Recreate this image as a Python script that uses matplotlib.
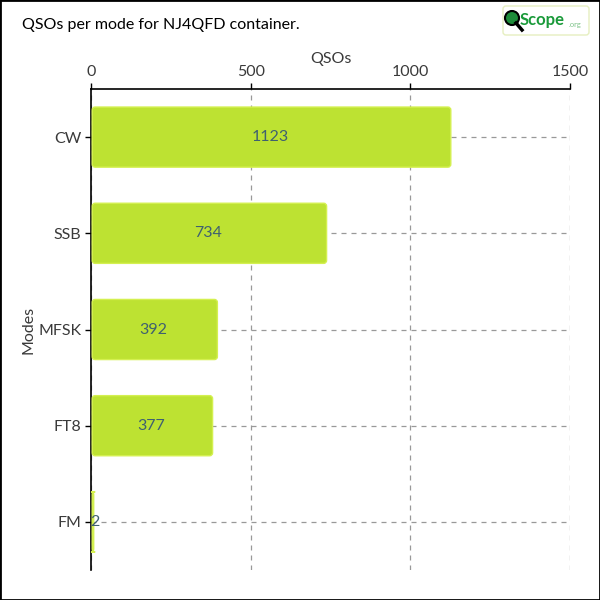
import matplotlib
matplotlib.use("Agg")
import matplotlib.pyplot as plt
from matplotlib.patches import FancyBboxPatch, Circle, Rectangle
import matplotlib.lines as mlines

modes = ["CW", "SSB", "MFSK", "FT8", "FM"]
qsos = [1123, 734, 392, 377, 2]
x_ticks = [0, 500, 1000, 1500]

BAR = "#bde232"
BAR_EDGE = "#d4f050"
TXT = "#3a3a3a"
VAL = "#3f6070"
FONT = ["Lato", "DejaVu Sans"]

plt.rcParams["font.family"] = FONT

fig = plt.figure(figsize=(6, 6), dpi=100)
ax = fig.add_axes([91 / 600, 30 / 600, 479 / 600, 481 / 600])

ax.set_xlim(0, 1500)
ax.set_ylim(4.5, -0.5)
ax.xaxis.tick_top()
ax.xaxis.set_label_position("top")
ax.set_xticks(x_ticks)
ax.set_yticks(range(len(modes)))
ax.set_yticklabels(modes)
ax.tick_params(axis="both", colors="black", labelcolor=TXT, labelsize=11.5,
               length=4, width=1, pad=3)
ax.set_xlabel("QSOs", fontsize=11.5, color=TXT, labelpad=2)
ax.set_ylabel("Modes", fontsize=11.5, color=TXT, labelpad=2)
for s in ["right", "bottom"]:
    ax.spines[s].set_visible(False)
for s in ["top", "left"]:
    ax.spines[s].set_linewidth(1.2)
    ax.spines[s].set_color("black")
ax.grid(True, linestyle=(0, (4, 4)), color="#999999", linewidth=0.9)
ax.set_axisbelow(True)

h = 0.625
px_x = 1500 / 479
px_y = 1 / 96
for i, v in enumerate(qsos):
    w = max(v, 1.5 * px_x)
    p = FancyBboxPatch((0 + 1.2 * px_x, i - h / 2), w, h,
                       boxstyle=f"round,pad=0,rounding_size={3 * px_x}",
                       mutation_aspect=px_y / px_x,
                       facecolor=BAR, edgecolor=BAR_EDGE, linewidth=1, zorder=3)
    ax.add_patch(p)
    ax.text(v / 2 + (4 if v < 10 else 0) * px_x, i, f"{v}", ha="center", va="center",
            fontsize=11.5, color=VAL, zorder=4)

# title
fig.text(22 / 600, 1 - 25 / 600, "QSOs per mode for NJ4QFD container.",
         ha="left", va="center", fontsize=11.5, color="black")

# logo
lax = fig.add_axes([502 / 600, 1 - 36 / 600, 88 / 600, 31 / 600])
lax.set_xlim(0, 88)
lax.set_ylim(31, 0)
lax.axis("off")
lax.add_patch(FancyBboxPatch((1, 1), 86, 29, boxstyle="round,pad=0,rounding_size=3",
                             facecolor="white", edgecolor="#e6efc0", linewidth=1))
lax.add_line(mlines.Line2D([14, 20], [18, 25], color="black", linewidth=2.5))
lax.add_patch(Circle((10, 13), 7, facecolor="#1e8c3a", edgecolor="black", linewidth=1.5))
lax.text(18, 15, "Scope", fontsize=12, color="#1a9a3a", fontweight="bold",
         ha="left", va="center")
lax.text(67, 20, ".org", fontsize=5.5, color="#7fc48a", ha="left", va="center")

# frame
fig.patches.append(Rectangle((0, 0), 1, 1, transform=fig.transFigure, fill=False,
                             edgecolor="black", linewidth=2))

fig.savefig("out.png", dpi=100)
